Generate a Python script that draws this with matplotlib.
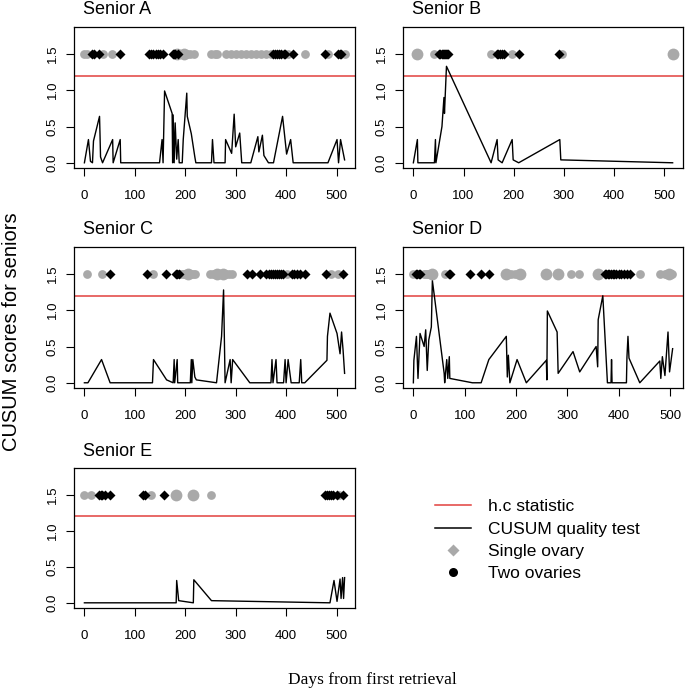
import matplotlib
matplotlib.use("Agg")
import matplotlib.pyplot as plt
from matplotlib.lines import Line2D

plt.rcParams["font.family"] = ["Liberation Sans", "DejaVu Sans"]

# ---- data (days from first retrieval, CUSUM score) ----
A_line_day = [0, 8, 12, 16, 18, 30, 31, 32, 36, 56, 57, 71, 72, 149, 154, 156, 159, 174, 175,
              176, 178, 180, 183, 186, 188, 194, 196, 203, 204, 212, 219, 221, 252, 254, 257,
              279, 280, 292, 297, 300, 308, 312, 330, 344, 346, 350, 353, 356, 365, 375, 393,
              401, 409, 414, 483, 501, 504, 508, 516]
A_line_val = [0, 0.32, 0.02, 0, 0.30, 0.64, 0.37, 0.08, 0, 0.32, 0, 0.32, 0, 0, 0.32, 0, 0.99,
              0.68, 0, 0.66, 0, 0.55, 0.05, 0.32, 0, 0, 0.32, 0.96, 0.64, 0.40, 0.08, 0, 0,
              0.32, 0, 0, 0.32, 0.13, 0.67, 0.22, 0.41, 0, 0, 0.36, 0.15, 0.28, 0.38, 0.10,
              0, 0, 0.64, 0.12, 0.32, 0, 0, 0.32, 0, 0.32, 0.04]
A_one = [0, 6, 36, 54, 188, 193, 198, 204, 210, 217, 252, 258, 262, 280, 290, 300, 310, 320,
         330, 340, 350, 360, 370, 404, 437, 483, 516]
A_two = [16, 19, 29, 71, 128, 132, 137, 141, 145, 150, 155, 175, 178, 180, 185, 375, 378, 382,
         386, 389, 395, 398, 414, 477, 503, 506, 508]
A_big = [183, 198]

B_line_day = [0, 8, 9, 42, 44, 45, 57, 61, 62, 66, 155, 167, 169, 177, 197, 199, 210, 292, 294, 517]
B_line_val = [0, 0.32, 0, 0, 0.32, 0, 0.50, 0.90, 0.68, 1.33, 0, 0.32, 0.04, 0, 0.32, 0.04, 0,
              0.32, 0.04, 0]
B_one = [8, 41, 155, 197, 296, 517]
B_two = [51, 54, 57, 59, 61, 63, 65, 67, 69, 166, 169, 172, 176, 180, 211, 291]
B_big = [8, 517]

C_line_day = [0, 7, 34, 51, 135, 137, 163, 176, 178, 179, 184, 185, 210, 212, 213, 215, 219,
              222, 262, 272, 276, 279, 289, 291, 294, 328, 370, 372, 374, 380, 382, 395, 398,
              400, 404, 410, 426, 429, 431, 437, 481, 482, 487, 501, 507, 510, 513, 516]
C_line_val = [0, 0, 0.32, 0, 0, 0.32, 0.04, 0, 0.32, 0, 0.32, 0, 0, 0.32, 0, 0.32, 0.08, 0.04,
              0, 0.64, 1.28, 0, 0.32, 0, 0.32, 0, 0, 0.32, 0, 0.32, 0, 0, 0.32, 0, 0.32, 0,
              0, 0.32, 0, 0, 0.31, 0.64, 0.96, 0.68, 0.40, 0.70, 0.45, 0.13]
C_one = [5, 34, 137, 190, 195, 200, 205, 210, 215, 220, 250, 256, 262, 268, 274, 280, 287, 293,
         401, 490, 503]
C_two = [51, 125, 162, 181, 184, 187, 322, 332, 348, 361, 366, 370, 374, 378, 382, 386, 390,
         394, 411, 416, 421, 428, 438, 479, 513]
C_big = [205, 262, 274]

D_line_day = [0, 1, 6, 9, 13, 21, 24, 27, 30, 35, 37, 41, 60, 61, 65, 67, 70, 71, 115, 132,
              147, 181, 183, 185, 188, 202, 220, 259, 260, 261, 280, 282, 311, 324, 356, 359,
              360, 369, 378, 385, 386, 387, 415, 416, 418, 420, 441, 480, 482, 485, 490, 496,
              499, 505]
D_line_val = [0, 0.31, 0.64, 0.06, 0.68, 0.50, 0.73, 0.17, 0.59, 0.77, 1.41, 1.19, 0.13, 0,
              0.32, 0.06, 0.36, 0.06, 0, 0, 0.32, 0.64, 0.08, 0.38, 0, 0.32, 0, 0.31, 0.04,
              0.99, 0.70, 0.13, 0.43, 0.15, 0.50, 0.22, 0.87, 1.20, 0, 0, 0.32, 0, 0, 0.35,
              0.64, 0.34, 0, 0.30, 0.06, 0.36, 0.10, 0.70, 0.15, 0.47]
D_one = [0, 20, 24, 28, 33, 37, 61, 180, 190, 197, 208, 259, 281, 308, 323, 360, 442, 480,
         490, 495, 500, 503]
D_two = [5, 8, 10, 13, 69, 71, 110, 132, 147, 373, 376, 379, 382, 385, 388, 391, 394, 400,
         405, 410, 416, 421]
D_big = [37, 180, 208, 259, 281, 360, 498]

E_line_day = [0, 182, 183, 187, 216, 217, 252, 487, 495, 501, 507, 509, 512, 514, 516]
E_line_val = [0, 0, 0.31, 0.03, 0, 0.32, 0.03, 0, 0.31, 0.02, 0.33, 0.06, 0.35, 0.06, 0.35]
E_one = [0, 14, 133, 182, 215, 252, 505]
E_two = [28, 32, 35, 40, 50, 117, 121, 157, 478, 482, 486, 490, 494, 500, 512]
E_big = [182, 215]

H_C = 1.2
Y_TICKS = [0, 0.5, 1.0, 1.5]
Y_TICK_LABELS = ["0.0", "0.5", "1.0", "1.5"]
X_TICKS = [0, 100, 200, 300, 400, 500]

PANELS = [
    ("Senior A", A_line_day, A_line_val, A_one, A_two, A_big, (74, 27, 355, 168)),
    ("Senior B", B_line_day, B_line_val, B_one, B_two, B_big, (403, 27, 683, 168)),
    ("Senior C", C_line_day, C_line_val, C_one, C_two, C_big, (74, 247, 355, 388)),
    ("Senior D", D_line_day, D_line_val, D_one, D_two, D_big, (403, 247, 683, 388)),
    ("Senior E", E_line_day, E_line_val, E_one, E_two, E_big, (74, 468, 355, 608)),
]

W, H = 685, 693
GRAY = "#a9a9a9"
RED = "#e2403d"

fig = plt.figure(figsize=(W / 100, H / 100), dpi=100)

for title, ld, lv, one, two, big, (x0, y0, x1, y1) in PANELS:
    ax = fig.add_axes([x0 / W, 1 - y1 / H, (x1 - x0) / W, (y1 - y0) / H])
    all_days = ld + one + two
    lo, hi = min(all_days), max(all_days)
    pad = 0.04 * (hi - lo)
    ax.set_xlim(lo - pad, hi + pad)
    ax.set_ylim(-0.072, 1.872)

    ax.axhline(H_C, color=RED, lw=1.1, zorder=2)
    ax.plot(ld, lv, color="black", lw=1.0, zorder=3)
    ax.plot(one, [1.5] * len(one), "o", color=GRAY, ms=6.3, mec="none", zorder=4)
    ax.plot(big, [1.5] * len(big), "o", color=GRAY, ms=8.5, mec="none", zorder=4)
    ax.plot(two, [1.5] * len(two), "D", color="black", ms=5.0, mec="none", zorder=5)

    ax.set_xticks(X_TICKS)
    ax.set_yticks(Y_TICKS)
    ax.set_yticklabels(Y_TICK_LABELS, rotation=90, va="center")
    ax.tick_params(direction="out", length=6, width=0.8, labelsize=9.5, pad=5)
    ax.tick_params(axis="x", pad=10)
    for spine in ax.spines.values():
        spine.set_linewidth(0.9)

    fig.text((x0 + 9) / W, 1 - (y0 - 17) / H, title, fontsize=13, ha="left", va="center")

fig.text(12 / W, 1 - 332 / H, "CUSUM scores for seniors", rotation=90, fontsize=14.5,
         ha="center", va="center")
fig.text(372 / W, 1 - 680 / H, "Days from first retrieval", family=["Liberation Serif"],
         fontsize=12.5, ha="center", va="center")

handles = [
    Line2D([], [], color=RED, lw=1.1),
    Line2D([], [], color="black", lw=1.1),
    Line2D([], [], ls="none", marker="D", color=GRAY, ms=6, mec="none"),
    Line2D([], [], ls="none", marker="o", color="black", ms=6.5, mec="none"),
]
labels = ["h.c statistic", "CUSUM quality test", "Single ovary", "Two ovaries"]
fig.legend(handles, labels, loc="upper left", bbox_to_anchor=(435 / W, 1 - 499 / H),
           frameon=False, fontsize=12.5, handlelength=2.1, handletextpad=0.95,
           labelspacing=0.42, borderpad=0, borderaxespad=0)

fig.savefig("out.png", dpi=100)
